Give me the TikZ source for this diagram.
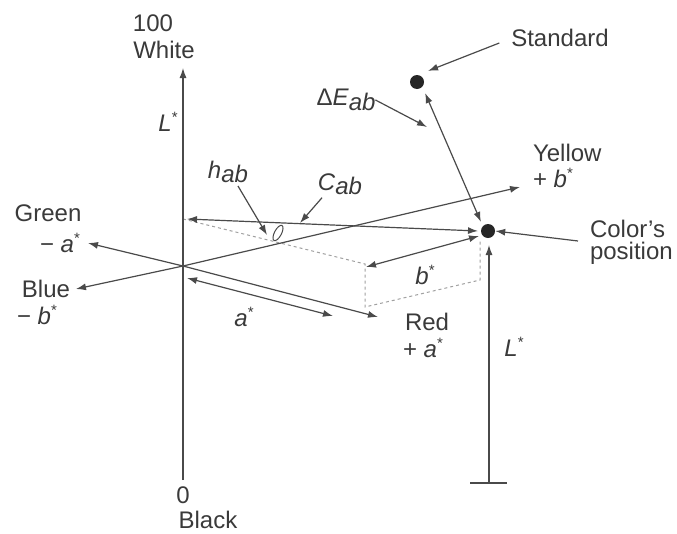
\documentclass[tikz,border=0pt]{standalone}
\usepackage{fontspec}
\setmainfont{Liberation Sans}
\usetikzlibrary{positioning, arrows.meta, shapes.geometric}
\definecolor{axisgray}{HTML}{4A4A4A}
\definecolor{textgray}{HTML}{3A3A3A}
\definecolor{dashgray}{HTML}{A0A0A0}
\newcommand{\lowsub}[1]{\raisebox{-0.35ex}{\textit{#1}}}
\newcommand{\starred}[1]{\textit{#1}\raisebox{0.75ex}{\fontsize{15}{15}\selectfont *}}

\begin{document}
\begin{tikzpicture}[
  x=1pt, y=-1pt,
  lbl/.style={
    text=textgray, font=\fontsize{24}{28}\selectfont,
    inner sep=0pt, outer sep=0pt
  },
  axis/.style={
    draw=axisgray, line width=1.2pt,
    -{Latex[length=10pt, width=7pt]}
  },
  twoway/.style={
    draw=axisgray, line width=1.2pt,
    {Latex[length=10pt, width=7pt]}-{Latex[length=10pt, width=7pt]}
  },
  plain/.style={
    draw=axisgray, line width=1.2pt
  },
  guide/.style={
    draw=dashgray, line width=1pt, dashed
  },
  spot/.style={
    circle, fill=black!85, minimum size=14pt, inner sep=0pt
  }
]
\useasboundingbox (0,0) rectangle (677,533);

% ================= Points =================
\coordinate (O) at (183,266);
\coordinate (Ltop) at (183,68);
\coordinate (Lbot) at (183,480);
\coordinate (GreenTip) at (88,243);
\coordinate (RedTip) at (378,317);
\coordinate (BlueTip) at (76,289);
\coordinate (YellowTip) at (520,187);
\coordinate (aStart) at (187,278);
\coordinate (aEnd) at (333,316);
\coordinate (CStart) at (187,219);
\coordinate (CEnd) at (478,231);
\coordinate (D0) at (183,219);
\coordinate (D1) at (365,264);
\coordinate (D2) at (365,307);
\coordinate (D3) at (480,280);
\coordinate (D4) at (480,240);
\coordinate (bStart) at (366,267);
\coordinate (bEnd) at (479,236);
\coordinate (RBase) at (489,483);
\coordinate (RTip) at (489,245);
\coordinate (TickL) at (470,483);
\coordinate (TickR) at (507,483);

% ================= Dots =================
\node[spot] (ColorDot) at (488,231) {};
\node[spot] (StdDot) at (417,82) {};

% ================= Labels =================
\node[lbl] (Hundred) at (153,23) {100};
\node[lbl] (White) at (164,50) {White};
\node[lbl] (Zero) at (183,495) {0};
\node[lbl] (Black) at (208,520) {Black};
\node[lbl] (LLeft) at (168,122) {\starred{L}};
\node[lbl] (LRight) at (514,347) {\starred{L}};
\node[lbl] (Green) at (48,213) {Green};
\node[lbl, anchor=west] (GreenSign) at (40,243) {− \starred{a}};
\node[lbl] (Blue) at (46,289) {Blue};
\node[lbl, anchor=west] (BlueSign) at (17,315) {− \starred{b}};
\node[lbl, anchor=west] (Yellow) at (533,153) {Yellow};
\node[lbl, anchor=west] (YellowSign) at (533,178) {+ \starred{b}};
\node[lbl, anchor=west] (Red) at (405,322) {Red};
\node[lbl, anchor=west] (RedSign) at (403,348) {+ \starred{a}};
\node[lbl, anchor=west, align=left] (ColorPos) at (590,242) {Color's\\[-6pt]position};
\node[lbl] (Standard) at (560,38) {Standard};
\node[lbl] (DeltaE) at (346,100) {Δ\textit{E}\lowsub{ab}};
\node[lbl] (hab) at (228,172) {\textit{h}\lowsub{ab}};
\node[lbl] (Cab) at (340,184) {\textit{C}\lowsub{ab}};
\node[lbl] (bLabel) at (425,275) {\starred{b}};
\node[lbl] (aLabel) at (244,317) {\starred{a}};
\node[draw=axisgray, line width=1pt, ellipse, minimum width=7pt, minimum height=17pt,
  inner sep=0pt, rotate=-28] (Theta) at (278,233) {};

% ================= Dashed projection =================
\draw[guide] (D0) -- (D1) -- (D2) -- (D3) -- (D4);

% ================= Axes =================
\draw[axis] (Lbot) -- (Ltop);
\draw[axis] (O) -- (GreenTip);
\draw[axis] (O) -- (RedTip);
\draw[axis] (O) -- (BlueTip);
\draw[axis] (O) -- (YellowTip);
\draw[twoway] (aStart) -- (aEnd);

% ================= Colour position =================
\draw[twoway] (CStart) -- (CEnd);
\draw[twoway] (bStart) -- (bEnd);
\draw[axis] (RBase) -- (RTip);
\draw[plain] (TickL) -- (TickR);
\draw[twoway] ([shift={(3,6)}]StdDot.south east) -- ([shift={(-2,-4)}]ColorDot.north west);

% ================= Pointers =================
\draw[axis] (Standard.west) ++(-12,5) -- ([shift={(6,-6)}]StdDot.north east);
\draw[axis] (DeltaE.east) -- (427,127);
\draw[axis] (ColorPos.west) ++(-12,-1) -- (ColorDot.east);
\draw[axis] (hab.south) ++(10,3) -- (267,235);
\draw[axis] (Cab.south) ++(-18,3) -- (300,223);

\end{tikzpicture}
\end{document}
